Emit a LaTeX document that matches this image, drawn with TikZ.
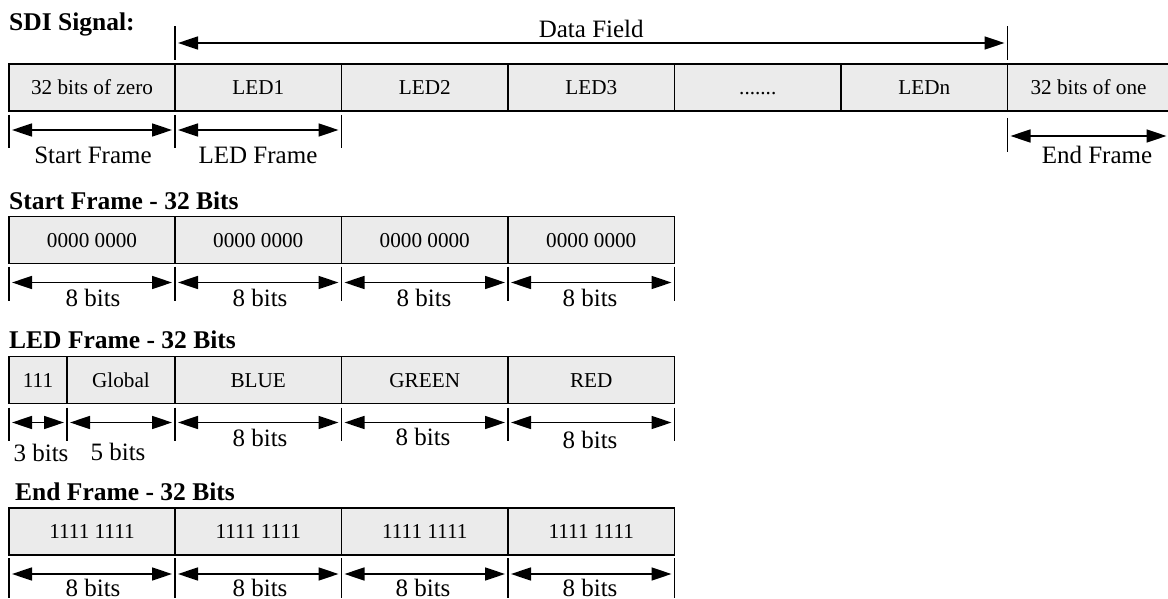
\documentclass[tikz,border=0pt]{standalone}
\usepackage{fontspec}
\setmainfont{Liberation Serif}
\usetikzlibrary{positioning,arrows.meta}
\definecolor{cellgray}{HTML}{EBEBEB}

\begin{document}
\begin{tikzpicture}[x=1pt,y=-1pt,
    cell/.style={draw, fill=cellgray, line width=1.8pt, minimum height=47pt,
        minimum width=166.5pt, outer sep=0pt, inner sep=0pt,
        text height=14pt, text depth=0pt,
        font=\fontsize{21.2}{23}\selectfont},
    dim/.style={{Triangle[length=20pt,width=13pt]}-{Triangle[length=20pt,width=13pt]},
        line width=1.6pt, shorten <=3pt, shorten >=3pt},
    tick/.style={line width=1.3pt},
    lbl/.style={font=\fontsize{25}{27}\selectfont, inner sep=0pt},
    ttl/.style={font=\bfseries\fontsize{25.5}{27}\selectfont, anchor=west, inner sep=0pt}
]

\useasboundingbox (0,0) rectangle (1168,599);

% SDI signal
\node[ttl] (sdiTitle) at (9,24) {SDI Signal:};

\node[cell, minimum width=166pt] (sig0) at (92,87.5) {32 bits of zero};
\node[cell, right=0pt of sig0] (sig1) {LED1};
\node[cell, right=0pt of sig1] (sig2) {LED2};
\node[cell, right=0pt of sig2] (sig3) {LED3};
\node[cell, right=0pt of sig3] (sig4) {.......};
\node[cell, right=0pt of sig4] (sig5) {LEDn};
\node[cell, minimum width=162pt, right=0pt of sig5] (sig6) {32 bits of one};

\draw[tick] ([yshift=4pt]sig1.north west) -- ++(0,-34);
\draw[tick] ([yshift=4pt]sig6.north west) -- ++(0,-34);
\coordinate (dataL) at ([yshift=21pt]sig1.north west);
\coordinate (dataR) at ([yshift=21pt]sig6.north west);
\draw[dim] (dataL) -- (dataR) node[lbl, pos=0.5, yshift=14pt] (dataText) {Data Field};

\draw[tick] ([yshift=-4pt]sig0.south west) -- ++(0,33);
\draw[tick] ([yshift=-4pt]sig1.south west) -- ++(0,33);
\draw[tick] ([yshift=-4pt]sig2.south west) -- ++(0,33);
\draw[tick] ([yshift=-7pt]sig6.south west) -- ++(0,34);
\coordinate (startL) at ([yshift=-19pt]sig0.south west);
\coordinate (startR) at ([yshift=-19pt]sig1.south west);
\coordinate (ledR) at ([yshift=-19pt]sig2.south west);
\coordinate (endL) at ([yshift=-25pt]sig6.south west);
\coordinate (endR) at ([yshift=-25pt]sig6.south east);
\draw[dim] (startL) -- (startR);
\draw[dim] (startR) -- (ledR);
\draw[dim] (endL) -- (endR);
\node[lbl] (startText) at (93,155) {Start Frame};
\node[lbl] (ledText) at (258,155) {LED Frame};
\node[lbl] (endText) at (1097,155) {End Frame};

% start frame
\node[ttl] (startTitle) at (9,201) {Start Frame - 32 Bits};

\node[cell, minimum width=166pt] (st0) at (92,240) {0000 0000};
\node[cell, right=0pt of st0] (st1) {0000 0000};
\node[cell, right=0pt of st1] (st2) {0000 0000};
\node[cell, right=0pt of st2] (st3) {0000 0000};

\draw[tick] ([yshift=-3pt]st0.south west) -- ++(0,34);
\draw[tick] ([yshift=-3pt]st1.south west) -- ++(0,34);
\draw[tick] ([yshift=-3pt]st2.south west) -- ++(0,34);
\draw[tick] ([yshift=-3pt]st3.south west) -- ++(0,34);
\draw[tick] ([yshift=-3pt]st3.south east) -- ++(0,34);
\draw[dim] ([yshift=-19pt]st0.south west) -- ([yshift=-19pt]st1.south west);
\draw[dim] ([yshift=-19pt]st1.south west) -- ([yshift=-19pt]st2.south west);
\draw[dim] ([yshift=-19pt]st2.south west) -- ([yshift=-19pt]st3.south west);
\draw[dim] ([yshift=-19pt]st3.south west) -- ([yshift=-19pt]st3.south east);
\node[lbl] (stBits0) at (93,298) {8 bits};
\node[lbl] (stBits1) at (260,298) {8 bits};
\node[lbl] (stBits2) at (424,298) {8 bits};
\node[lbl] (stBits3) at (590,298) {8 bits};

% LED frame
\node[ttl] (ledTitle) at (9,340) {LED Frame - 32 Bits};

\node[cell, minimum width=58pt] (ld0) at (38,380) {111};
\node[cell, minimum width=108pt, right=0pt of ld0] (ld1) {Global};
\node[cell, right=0pt of ld1] (ld2) {BLUE};
\node[cell, right=0pt of ld2] (ld3) {GREEN};
\node[cell, right=0pt of ld3] (ld4) {RED};

\draw[tick] ([yshift=-4pt]ld0.south west) -- ++(0,33);
\draw[tick] ([yshift=-4pt]ld1.south west) -- ++(0,33);
\draw[tick] ([yshift=-4pt]ld2.south west) -- ++(0,33);
\draw[tick] ([yshift=-4pt]ld3.south west) -- ++(0,33);
\draw[tick] ([yshift=-4pt]ld4.south west) -- ++(0,33);
\draw[tick] ([yshift=-4pt]ld4.south east) -- ++(0,33);
\draw[dim] ([yshift=-19pt]ld0.south west) -- ([yshift=-19pt]ld1.south west);
\draw[dim] ([yshift=-19pt]ld1.south west) -- ([yshift=-19pt]ld2.south west);
\draw[dim] ([yshift=-19pt]ld2.south west) -- ([yshift=-19pt]ld3.south west);
\draw[dim] ([yshift=-19pt]ld3.south west) -- ([yshift=-19pt]ld4.south west);
\draw[dim] ([yshift=-19pt]ld4.south west) -- ([yshift=-19pt]ld4.south east);
\node[lbl] (ldBits0) at (41,453) {3 bits};
\node[lbl] (ldBits1) at (118,452) {5 bits};
\node[lbl] (ldBits2) at (260,438) {8 bits};
\node[lbl] (ldBits3) at (423,437) {8 bits};
\node[lbl] (ldBits4) at (590,440) {8 bits};

% end frame
\node[ttl] (endTitle) at (15,492) {End Frame - 32 Bits};

\node[cell, minimum width=166pt] (en0) at (92,531.5) {1111 1111};
\node[cell, right=0pt of en0] (en1) {1111 1111};
\node[cell, right=0pt of en1] (en2) {1111 1111};
\node[cell, right=0pt of en2] (en3) {1111 1111};

\draw[tick] ([yshift=-3pt]en0.south west) -- ++(0,40);
\draw[tick] ([yshift=-3pt]en1.south west) -- ++(0,40);
\draw[tick] ([yshift=-3pt]en2.south west) -- ++(0,40);
\draw[tick] ([yshift=-3pt]en3.south west) -- ++(0,40);
\draw[tick] ([yshift=-3pt]en3.south east) -- ++(0,40);
\draw[dim] ([yshift=-19pt]en0.south west) -- ([yshift=-19pt]en1.south west);
\draw[dim] ([yshift=-19pt]en1.south west) -- ([yshift=-19pt]en2.south west);
\draw[dim] ([yshift=-19pt]en2.south west) -- ([yshift=-19pt]en3.south west);
\draw[dim] ([yshift=-19pt]en3.south west) -- ([yshift=-19pt]en3.south east);
\node[lbl] (enBits0) at (93,588) {8 bits};
\node[lbl] (enBits1) at (260,588) {8 bits};
\node[lbl] (enBits2) at (423,588) {8 bits};
\node[lbl] (enBits3) at (590,588) {8 bits};

\end{tikzpicture}
\end{document}
